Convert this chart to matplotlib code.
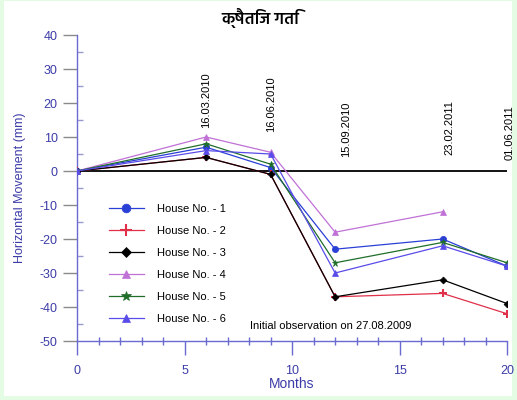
import matplotlib
matplotlib.use("Agg")
import matplotlib.pyplot as plt
from matplotlib import font_manager
from matplotlib.patches import Rectangle
from fontTools.ttLib import TTFont

# values
months = [0, 6, 9, 12, 17, 20]
house_1 = [0, 7, 1, -23, -20, -28]
house_2 = [0, 4, -1, -37, -36, -42]
house_3 = [0, 4, -1, -37, -32, -39]
house_4 = [0, 10, 5.5, -18, -12]
house_5 = [0, 8, 2, -27, -21, -27]
house_6 = [0, 6, 5, -30, -22, -28]

date_labels = ["16.03.2010", "16.06.2010", "15.09.2010", "23.02.2011", "01.06.2011"]
date_x = [6, 9, 12.5, 17.3, 20.1]
date_y = [12.6, 11.4, 4.0, 4.7, 3.2]

title = "क्षैतिज गति"


def find_devanagari():
    found = []
    for f in font_manager.findSystemFonts():
        if "unifont" in f.lower():
            continue
        try:
            tt = TTFont(f, fontNumber=0, lazy=True)
            cmap = tt.getBestCmap()
            if cmap and 0x0915 in cmap:
                found.append(f)
        except Exception:
            pass
    prefs = ["NotoSansDevanagari-SemiBold", "NotoSansDevanagari-Medium", "NotoSansDevanagari-Regular",
             "Hind-SemiBold", "Hind-Medium", "Mukta-SemiBold", "EkMukta-SemiBold", "Mukta-Medium"]
    for p in prefs:
        for f in found:
            if p.lower() in f.lower():
                return f
    return found[0] if found else None


plt.rcParams["font.family"] = ["Liberation Sans", "DejaVu Sans"]
plt.rcParams["axes.unicode_minus"] = False

axis_blue = "#6a6ad0"
label_blue = "#3c3ca8"

fig = plt.figure(figsize=(5.17, 4.0), dpi=100, facecolor="#e4fbe4")
fig.patches.append(Rectangle((0.008, 0.01), 0.983, 0.987, transform=fig.transFigure,
                             facecolor="white", edgecolor="none", zorder=-10))
ax = fig.add_axes([0.149, 0.1475, 0.832, 0.765])
ax.set_facecolor("none")

series = [
    (house_1, "#2a3fd6", "o", 4.5, "House No. - 1"),
    (house_2, "#e0304a", "+", 6, "House No. - 2"),
    (house_3, "#000000", "D", 3.5, "House No. - 3"),
    (house_4, "#c071d6", "^", 4.5, "House No. - 4"),
    (house_5, "#1f6e2a", "*", 5, "House No. - 5"),
    (house_6, "#5a4ce8", "^", 4.5, "House No. - 6"),
]
for vals, col, mk, ms, lab in series:
    ax.plot(months[:len(vals)], vals, color=col, lw=0.9, marker=mk, ms=ms,
            mew=1.5 if mk == "+" else 0.5, label=lab, zorder=3)

ax.axhline(0, color="black", lw=1.3, zorder=2)

ax.set_xlim(0, 20)
ax.set_ylim(-50, 40)
ax.set_xticks(range(0, 21, 5))
ax.set_xticks(range(0, 21), minor=True)
ax.set_yticks(range(-50, 41, 10))
ax.set_yticks(range(-45, 41, 10), minor=True)

for s in ["top", "right"]:
    ax.spines[s].set_visible(False)
for s in ["left", "bottom"]:
    ax.spines[s].set_color(axis_blue)
    ax.spines[s].set_linewidth(1.0)

ax.tick_params(axis="x", which="major", direction="out", length=10, width=1,
               color=axis_blue, labelcolor=label_blue, labelsize=9, pad=7)
ax.tick_params(axis="x", which="minor", direction="inout", length=6, width=1, color=axis_blue)
ax.tick_params(axis="y", which="major", direction="out", length=10, width=1,
               color="#8a8a8a", labelcolor=label_blue, labelsize=9, pad=4)
ax.tick_params(axis="y", which="minor", direction="in", length=4, width=1, color="#9a9ad0")

ax.set_xlabel("Months", color=label_blue, fontsize=10, labelpad=0)
ax.set_ylabel("Horizontal Movement (mm)", color=label_blue, fontsize=9, labelpad=10)

for lab, x, y in zip(date_labels, date_x, date_y):
    ax.text(x, y, lab, rotation=90, ha="center", va="bottom", fontsize=8, clip_on=False)

ax.text(8.05, -45.6, "Initial observation on 27.08.2009", fontsize=8, va="center")

ax.legend(loc="upper left", bbox_to_anchor=(0.05, 0.48), frameon=False, fontsize=8,
          handlelength=3.2, labelspacing=1.07, handletextpad=1.2, markerscale=1.4)

dev = find_devanagari()
fam = ["DejaVu Sans"]
if dev:
    font_manager.fontManager.addfont(dev)
    fam = [font_manager.FontProperties(fname=dev).get_name(), "DejaVu Sans"]
fig.text(0.503, 0.955, title, ha="center", va="center", fontsize=12, fontweight="semibold", family=fam)

fig.savefig("out.png", dpi=100)
